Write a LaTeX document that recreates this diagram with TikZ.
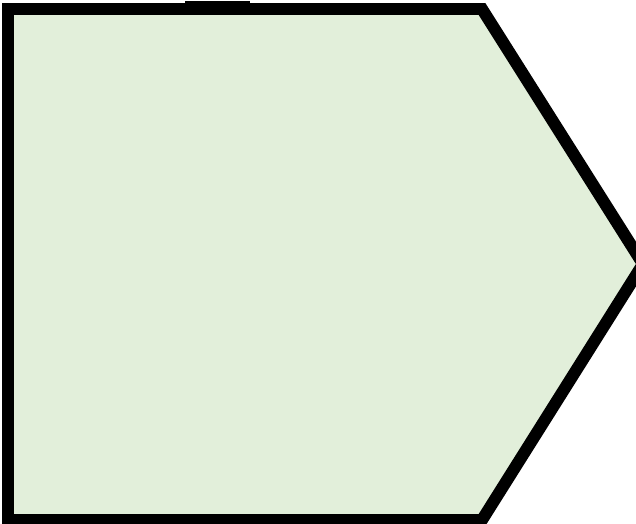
\documentclass[tikz,border=0pt]{standalone}
\usepackage{tikz}
\definecolor{paleGreen}{RGB}{226,239,218}

\begin{document}
\begin{tikzpicture}[x=0.02cm, y=-0.02cm]
    % Frame
    \useasboundingbox (0, 0) rectangle (636, 524);
    \clip (0, 0) rectangle (636, 524);

    % Pentagon arrow
    \draw[fill=paleGreen, line width=0.24cm, line join=miter] (8, 9) -- (482, 9) -- (643, 264) -- (482, 520) -- (8, 520) -- cycle;

    % Short mark above the top edge
    \draw[line width=0.04cm] (185, 2) -- (250, 2);
\end{tikzpicture}
\end{document}
